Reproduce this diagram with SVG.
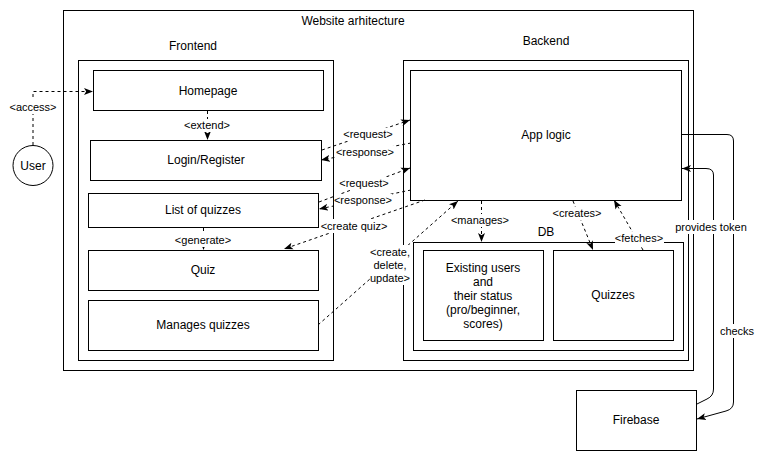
<svg xmlns="http://www.w3.org/2000/svg" width="764" height="461" viewBox="0 0 764 461">
<defs>
<style>
.box{fill:#fff;stroke:#000;stroke-width:1}
.frame{fill:none;stroke:#000;stroke-width:1}
.t{font-family:"Liberation Sans",Arial,sans-serif;font-size:12px;fill:#000;text-anchor:middle;dominant-baseline:central}
.l{font-family:"Liberation Sans",Arial,sans-serif;font-size:11px;fill:#000;text-anchor:middle;dominant-baseline:central}
.d{fill:none;stroke:#000;stroke-width:1;stroke-dasharray:3 3;marker-end:url(#arr)}
.s{fill:none;stroke:#000;stroke-width:1;marker-end:url(#arr)}
.bg{fill:#fff;stroke:none}
</style>
<marker id="arr" markerUnits="userSpaceOnUse" markerWidth="9" markerHeight="8" viewBox="0 0 9 8" refX="9" refY="4" orient="auto">
<path d="M0,0.5 L9,4 L0,7.5 L2.2,4 Z" fill="#000" stroke="none"/>
</marker>
</defs>
<rect width="764" height="461" fill="#fff"/>

<g id="website">
<rect class="frame" x="63.5" y="10.5" width="630" height="360"/>
<text class="t" x="353" y="21">Website arhitecture</text>
</g>
<g id="frontend">
<rect class="frame" x="78.5" y="60.5" width="255" height="300"/>
<text class="t" x="193" y="46">Frontend</text>
</g>
<g id="backend">
<rect class="frame" x="403.5" y="60.5" width="285" height="300"/>
<text class="t" x="546" y="41">Backend</text>
</g>

<g id="homepage"><rect class="box" x="93.5" y="70.5" width="230" height="40"/><text class="t" x="208" y="91">Homepage</text></g>
<g id="login"><rect class="box" x="90.5" y="140.5" width="231" height="40"/><text class="t" x="206" y="160">Login/Register</text></g>
<g id="list"><rect class="box" x="88.5" y="193.5" width="230" height="34"/><text class="t" x="203" y="210">List of quizzes</text></g>
<g id="quiz"><rect class="box" x="88.5" y="250.5" width="230" height="40"/><text class="t" x="203" y="270">Quiz</text></g>
<g id="manages"><rect class="box" x="88.5" y="300.5" width="230" height="50"/><text class="t" x="203" y="325">Manages quizzes</text></g>
<g id="user"><circle class="box" cx="33" cy="165.5" r="20"/><text class="t" x="33" y="166">User</text></g>

<g id="applogic"><rect class="box" x="410.5" y="70.5" width="271" height="130"/><text class="t" x="546" y="135">App logic</text></g>
<g id="db"><rect class="box" x="413.5" y="242.5" width="270" height="108"/><text class="t" x="546" y="232">DB</text></g>
<g id="users"><rect class="box" x="423.5" y="250.5" width="120" height="90"/>
<text class="t" x="483" y="268">Existing users</text>
<text class="t" x="483" y="282">and</text>
<text class="t" x="483" y="296">their status</text>
<text class="t" x="483" y="310">(pro/beginner,</text>
<text class="t" x="483" y="324">scores)</text>
</g>
<g id="quizzes"><rect class="box" x="553.5" y="250.5" width="120" height="90"/><text class="t" x="613" y="295">Quizzes</text></g>
<g id="firebase"><rect class="box" x="576.5" y="390.5" width="120" height="60"/><text class="t" x="636" y="420">Firebase</text></g>

<g id="connectors">
<path class="d" d="M33,145 L33,91.5 L93,91.5"/>
<rect class="bg" x="11" y="100" width="44" height="14"/><text class="l" x="33" y="107">&lt;access&gt;</text>

<path class="d" d="M207.5,111 L207.5,140"/>
<rect class="bg" x="184" y="119" width="47" height="13"/><text class="l" x="207" y="125">&lt;extend&gt;</text>

<path class="d" d="M203.5,228 L203.5,250"/>
<rect class="bg" x="175" y="234" width="57" height="13"/><text class="l" x="203" y="240">&lt;generate&gt;</text>

<path class="d" d="M322,150 L410,120"/>
<rect class="bg" x="343" y="128" width="50" height="13"/><text class="l" x="368" y="134">&lt;request&gt;</text>

<path class="d" d="M411,143 L321,160"/>
<rect class="bg" x="336" y="146" width="58" height="13"/><text class="l" x="365" y="152">&lt;response&gt;</text>

<path class="d" d="M319,202 L410,168"/>
<rect class="bg" x="339" y="177" width="50" height="13"/><text class="l" x="364" y="183">&lt;request&gt;</text>

<path class="d" d="M411,190 L319,209"/>
<rect class="bg" x="334" y="194" width="58" height="13"/><text class="l" x="363" y="200">&lt;response&gt;</text>

<path class="d" d="M425,200 L284,249"/>
<rect class="bg" x="319" y="219" width="69" height="14"/><text class="l" x="354" y="226">&lt;create quiz&gt;</text>

<path class="d" d="M318,325 L458,201"/>
<rect class="bg" x="370" y="245" width="40" height="40"/>
<text class="l" x="390" y="252">&lt;create,</text>
<text class="l" x="390" y="265">delete,</text>
<text class="l" x="390" y="278">update&gt;</text>

<path class="d" d="M481.5,201 L481.5,242"/>
<rect class="bg" x="451" y="214" width="59" height="13"/><text class="l" x="480" y="220">&lt;manages&gt;</text>

<path class="d" d="M573,201 L593,250"/>
<rect class="bg" x="552" y="207" width="49" height="13"/><text class="l" x="577" y="213">&lt;creates&gt;</text>

<path class="d" d="M643,250 L614,200"/>
<rect class="bg" x="615" y="232" width="49" height="13"/><text class="l" x="639" y="238">&lt;fetches&gt;</text>

<path class="s" d="M682,134.5 L727,134.5 Q733.5,134.5 733.5,141 L733.5,402 Q733.5,409 726,411 L697,419"/>
<rect class="bg" x="720" y="324" width="35" height="14"/><text class="l" x="737" y="331">checks</text>

<path class="s" d="M697,404 L707,399 Q713.5,396 713.5,389 L713.5,175 Q713.5,168.5 706,168.5 L682,168.5"/>
<rect class="bg" x="675" y="220" width="72" height="14"/><text class="l" x="711" y="227">provides token</text>
</g>
</svg>
